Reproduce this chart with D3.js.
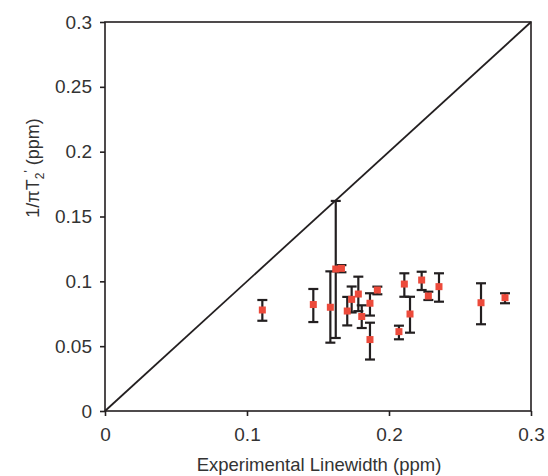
<!DOCTYPE html>
<html>
<head>
<meta charset="utf-8">
<script src="https://cdn.jsdelivr.net/npm/d3@7/dist/d3.min.js"></script>
<style>
  html, body { margin: 0; padding: 0; background: #fff; }
  svg { display: block; }
  text { font-family: "Liberation Sans", Arial, sans-serif; fill: #333; }
</style>
</head>
<body>
<svg id="chart" width="548" height="476"></svg>
<script>
// Data
const linewidth = [0.1108, 0.1467, 0.1587, 0.1625, 0.1665, 0.1706, 0.1737, 0.1784, 0.1808, 0.1866, 0.1866, 0.1918, 0.2070, 0.2108, 0.2148, 0.2230, 0.2277, 0.2352, 0.2648, 0.2817];
const invPiT2   = [0.0779, 0.0821, 0.0800, 0.1095, 0.1100, 0.0771, 0.0861, 0.0902, 0.0729, 0.0831, 0.0551, 0.0933, 0.0612, 0.0979, 0.0748, 0.1010, 0.0887, 0.0959, 0.0835, 0.0874];
const errLow    = [0.0696, 0.0686, 0.0527, 0.0563, 0.1070, 0.0660, 0.0760, 0.0770, 0.0640, 0.0736, 0.0397, 0.0900, 0.0553, 0.0881, 0.0604, 0.0933, 0.0856, 0.0843, 0.0669, 0.0831];
const errHigh   = [0.0856, 0.0941, 0.1077, 0.1620, 0.1125, 0.0880, 0.0960, 0.1036, 0.0815, 0.0908, 0.0681, 0.0959, 0.0658, 0.1062, 0.0881, 0.1074, 0.0920, 0.1062, 0.0985, 0.0908];
const xTicks = [0, 0.1, 0.2, 0.3];
const yTicks = [0, 0.05, 0.1, 0.15, 0.2, 0.25, 0.3];
const identityLine = [0, 0.3];

const svg = d3.select("#chart");
const pL = 105, pR = 531, pT = 22, pB = 411;

const x = d3.scaleLinear().domain([0, 0.3]).range([pL, pR]);
const y = d3.scaleLinear().domain([0, 0.3]).range([pB, pT]);

const ink = "#231f20";

// Frame
svg.append("rect")
  .attr("x", pL).attr("y", pT)
  .attr("width", pR - pL).attr("height", pB - pT)
  .attr("fill", "none").attr("stroke", ink).attr("stroke-width", 1.6);

// Axes
const fmt = d => d === 0 ? "0" : String(+d.toFixed(2));
const xAxis = d3.axisBottom(x).tickValues(xTicks).tickSize(5).tickPadding(12).tickFormat(fmt);
const yAxis = d3.axisLeft(y).tickValues(yTicks).tickSize(5).tickPadding(8).tickFormat(fmt);

const gx = svg.append("g").attr("transform", `translate(0,${pB})`).call(xAxis);
const gy = svg.append("g").attr("transform", `translate(${pL},0)`).call(yAxis);
[gx, gy].forEach(g => {
  g.select(".domain").remove();
  g.selectAll(".tick line").attr("stroke", ink).attr("stroke-width", 1.6);
  g.selectAll(".tick text").attr("font-size", 19)
    .attr("font-family", "'Liberation Sans', Arial, sans-serif").attr("fill", "#333");
});

// Identity line
svg.append("line")
  .attr("x1", x(identityLine[0])).attr("y1", y(identityLine[0]))
  .attr("x2", x(identityLine[1])).attr("y2", y(identityLine[1]))
  .attr("stroke", ink).attr("stroke-width", 1.8);

// Error bars
const data = linewidth.map((v, i) => ({x: v, y: invPiT2[i], lo: errLow[i], hi: errHigh[i]}));
const capW = 5;
const eb = svg.append("g").attr("stroke", ink).attr("stroke-width", 2.2);
data.forEach(d => {
  eb.append("line").attr("x1", x(d.x)).attr("x2", x(d.x)).attr("y1", y(d.lo)).attr("y2", y(d.hi));
  eb.append("line").attr("x1", x(d.x) - capW).attr("x2", x(d.x) + capW).attr("y1", y(d.lo)).attr("y2", y(d.lo));
  eb.append("line").attr("x1", x(d.x) - capW).attr("x2", x(d.x) + capW).attr("y1", y(d.hi)).attr("y2", y(d.hi));
});

// Markers
const ms = 7;
svg.append("g").selectAll("rect").data(data).join("rect")
  .attr("x", d => x(d.x) - ms / 2).attr("y", d => y(d.y) - ms / 2)
  .attr("width", ms).attr("height", ms)
  .attr("fill", "#ec4a3b");

// Axis titles
svg.append("text")
  .attr("x", 319).attr("y", 471)
  .attr("text-anchor", "middle").attr("font-size", 18.5)
  .text("Experimental Linewidth (ppm)");

const yt = svg.append("text")
  .attr("transform", "translate(39,168) rotate(-90)")
  .attr("text-anchor", "middle").attr("font-size", 18);
yt.append("tspan").text("1/πT");
yt.append("tspan").attr("font-size", 12).attr("dy", 5).text("2");
yt.append("tspan").attr("font-size", 12).attr("dy", -11).text("'");
yt.append("tspan").attr("dy", 6).text(" (ppm)");
</script>
</body>
</html>
